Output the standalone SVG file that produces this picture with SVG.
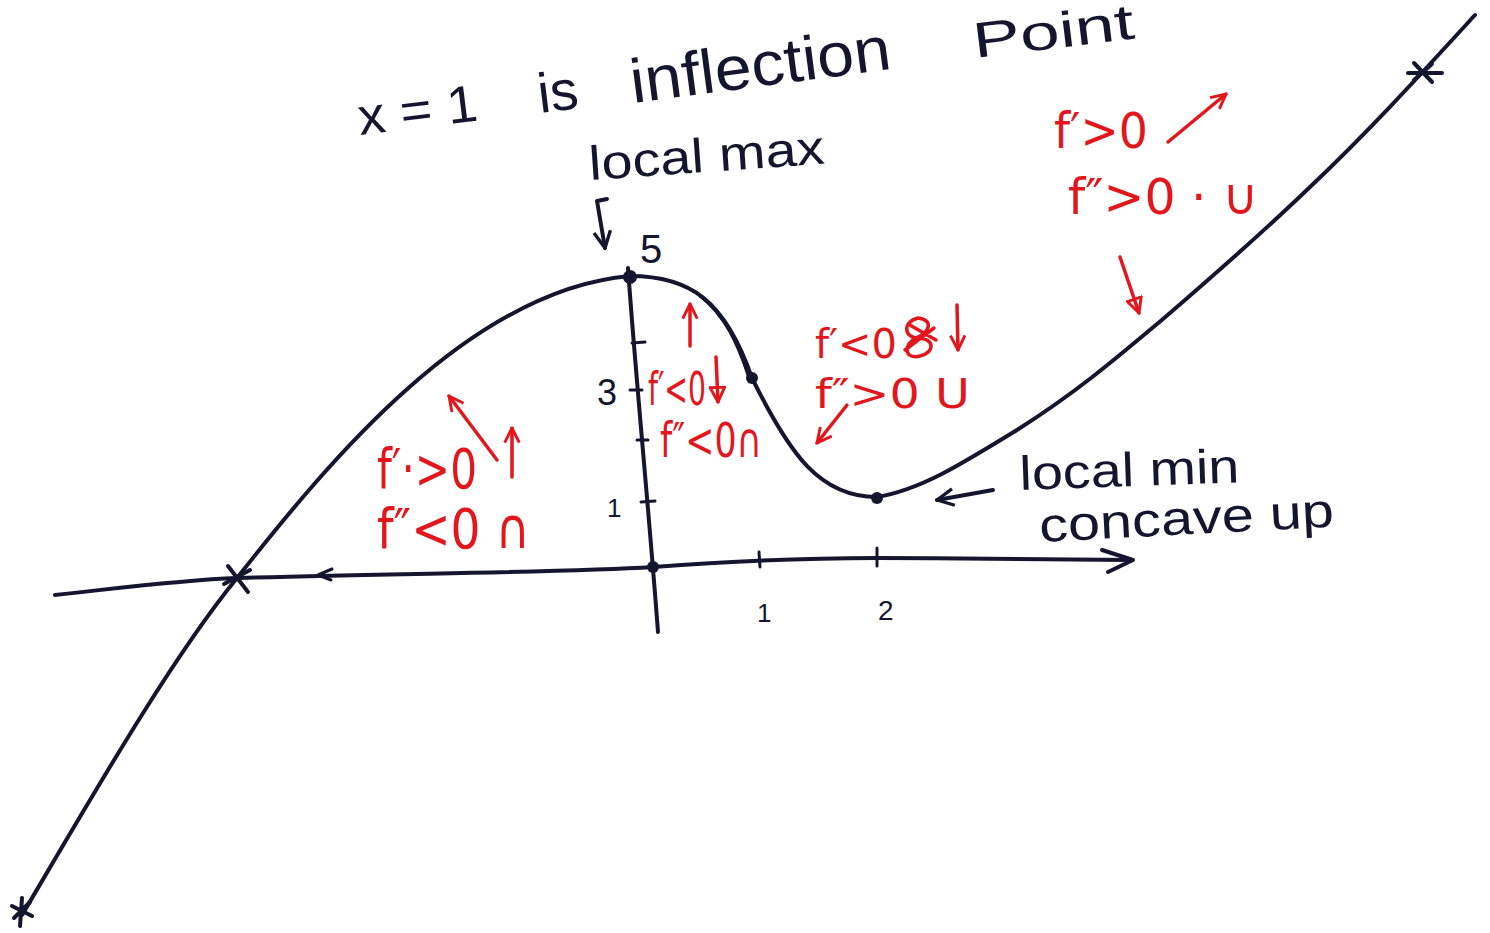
<svg xmlns="http://www.w3.org/2000/svg" width="1490" height="933" viewBox="0 0 1490 933">
<style>
.ink{fill:none;stroke:#15152e;stroke-width:4;stroke-linecap:round;stroke-linejoin:round}
.thin{fill:none;stroke:#15152e;stroke-width:3;stroke-linecap:round;stroke-linejoin:round}
.red{fill:none;stroke:#e3161c;stroke-width:3.5;stroke-linecap:round;stroke-linejoin:round}
.bt{fill:#15152e;font-family:"Liberation Sans","DejaVu Sans",sans-serif}
.rt{fill:#e3161c;font-family:"DejaVu Sans","Liberation Sans",sans-serif}
</style>
<defs>
<marker id="vb" viewBox="0 0 12 12" refX="11" refY="6" markerWidth="5" markerHeight="5" orient="auto" markerUnits="strokeWidth">
<path d="M1,1 L11,6 L1,11" fill="none" stroke="#15152e" stroke-width="2"/>
</marker>
<marker id="vr" viewBox="0 0 12 12" refX="11" refY="6" markerWidth="5" markerHeight="5" orient="auto" markerUnits="strokeWidth">
<path d="M1,1 L11,6 L1,11" fill="none" stroke="#e3161c" stroke-width="2"/>
</marker>
<marker id="tr" viewBox="0 0 12 12" refX="11" refY="6" markerWidth="5" markerHeight="5" orient="auto" markerUnits="strokeWidth">
<path d="M1,1 L11,6 L1,11 Z" fill="none" stroke="#e3161c" stroke-width="2"/>
</marker>
</defs>
<rect width="1490" height="933" fill="#ffffff"/>

<g id="axes">
<path class="ink" d="M55,595 C120,588 180,580 237,578 C400,573 560,573 653,567 C720,562 790,558 877,558 C960,558 1040,560 1130,560"/>
<path class="ink" d="M1102,550 L1133,560 L1108,572"/>
<path class="thin" d="M332,569 L318,575 L331,580"/>
<path class="ink" d="M628,268 C636,380 648,500 658,632"/>
<path class="thin" d="M632,343 L645,342 M630,390 L642,390 M637,440 L648,440 M641,502 L655,501"/>
<path class="thin" d="M759,552 L760,567 M877,548 L877,566"/>
<circle cx="653" cy="567" r="6" fill="#15152e"/>
</g>

<g id="curve">
<path class="ink" d="M22,915 C90,800 170,660 237,578 C330,460 470,290 630,276 C690,276 725,300 752,378 C790,455 820,497 877,497 C920,490 960,465 1017,430 C1080,390 1120,355 1163,319 C1220,270 1260,235 1310,187 C1370,130 1420,75 1475,15"/>
<path class="thin" d="M700,296 C725,315 738,345 748,375"/>
<circle cx="630" cy="277" r="7" fill="#15152e"/>
<circle cx="752" cy="378" r="6" fill="#15152e"/>
<circle cx="877" cy="498" r="6" fill="#15152e"/>
</g>

<g id="stars">
<path class="ink" d="M228,566 L248,592 M224,584 L250,570"/>
<path class="ink" d="M1408,73 L1442,73 M1414,63 L1432,82 M1432,64 L1414,80"/>
<path class="ink" d="M12,906 L32,916 M14,918 L30,902 M22,898 L20,926"/>
</g>

<g id="title">
<text class="bt" x="360" y="135" font-size="52" textLength="120" lengthAdjust="spacingAndGlyphs" transform="rotate(-7 360 135)">x = 1</text>
<text class="bt" x="540" y="113" font-size="56" transform="rotate(-7 540 113)">is</text>
<text class="bt" x="633" y="103" font-size="62" textLength="262" lengthAdjust="spacingAndGlyphs" transform="rotate(-7.5 633 103)">inflection</text>
<text class="bt" x="975" y="58" font-size="50" textLength="162" lengthAdjust="spacingAndGlyphs" transform="rotate(-7 975 58)">Point</text>
</g>

<g id="local-max">
<text class="bt" x="590" y="180" font-size="48" textLength="236" lengthAdjust="spacingAndGlyphs" transform="rotate(-4 590 180)">local max</text>
<path class="ink" d="M607,199 L597,201 L605,248" marker-end="url(#vb)"/>
<text class="bt" x="640" y="263" font-size="40">5</text>
</g>

<g id="y-labels">
<text class="bt" x="597" y="405" font-size="36">3</text>
<text class="bt" x="607" y="517" font-size="26">1</text>
<text class="bt" x="757" y="622" font-size="26">1</text>
<text class="bt" x="878" y="620" font-size="28">2</text>
</g>

<g id="local-min">
<path class="ink" d="M993,490 L937,500" marker-end="url(#vb)"/>
<text class="bt" x="1020" y="490" font-size="48" textLength="220" lengthAdjust="spacingAndGlyphs" transform="rotate(-2 1020 490)">local min</text>
<text class="bt" x="1040" y="542" font-size="48" textLength="295" lengthAdjust="spacingAndGlyphs" transform="rotate(-3 1040 542)">concave up</text>
</g>

<g id="left-notes">
<text class="rt" x="377" y="488" font-size="56" textLength="100" lengthAdjust="spacingAndGlyphs">f′·&gt;0</text>
<text class="rt" x="377" y="548" font-size="56" textLength="153" lengthAdjust="spacingAndGlyphs">f″&lt;0 ∩</text>
<path class="red" d="M497,460 L449,396" marker-end="url(#vr)"/>
<path class="red" d="M512,477 L512,428" marker-end="url(#vr)"/>
</g>

<g id="mid-notes">
<path class="red" d="M690,346 L690,304" marker-end="url(#vr)"/>
<text class="rt" x="648" y="405" font-size="46" textLength="58" lengthAdjust="spacingAndGlyphs">f′&lt;0</text>
<path class="red" d="M716,357 L718,402" marker-end="url(#tr)"/>
<text class="rt" x="660" y="457" font-size="48" textLength="102" lengthAdjust="spacingAndGlyphs">f″&lt;0∩</text>
</g>

<g id="right-notes">
<text class="rt" x="815" y="358" font-size="40" textLength="82" lengthAdjust="spacingAndGlyphs">f′&lt;0</text>
<path class="red" d="M918,318 C902,322 904,338 918,338 C934,338 936,352 920,356 C904,360 903,344 916,338 C930,332 934,320 918,318 M908,324 L936,340 M905,350 L934,328"/>
<path class="red" d="M957,305 L958,350" marker-end="url(#vr)"/>
<text class="rt" x="815" y="408" font-size="40" textLength="155" lengthAdjust="spacingAndGlyphs">f″&gt;0 U</text>
<path class="red" d="M847,405 L817,443" marker-end="url(#vr)"/>
</g>

<g id="top-right-notes">
<text class="rt" x="1054" y="148" font-size="50" textLength="94" lengthAdjust="spacingAndGlyphs">f′&gt;0</text>
<path class="red" d="M1168,142 L1226,94" marker-end="url(#vr)"/>
<text class="rt" x="1068" y="214" font-size="50" textLength="190" lengthAdjust="spacingAndGlyphs">f″&gt;0 · ∪</text>
<path class="red" d="M1120,257 L1139,313" marker-end="url(#tr)"/>
</g>
</svg>
